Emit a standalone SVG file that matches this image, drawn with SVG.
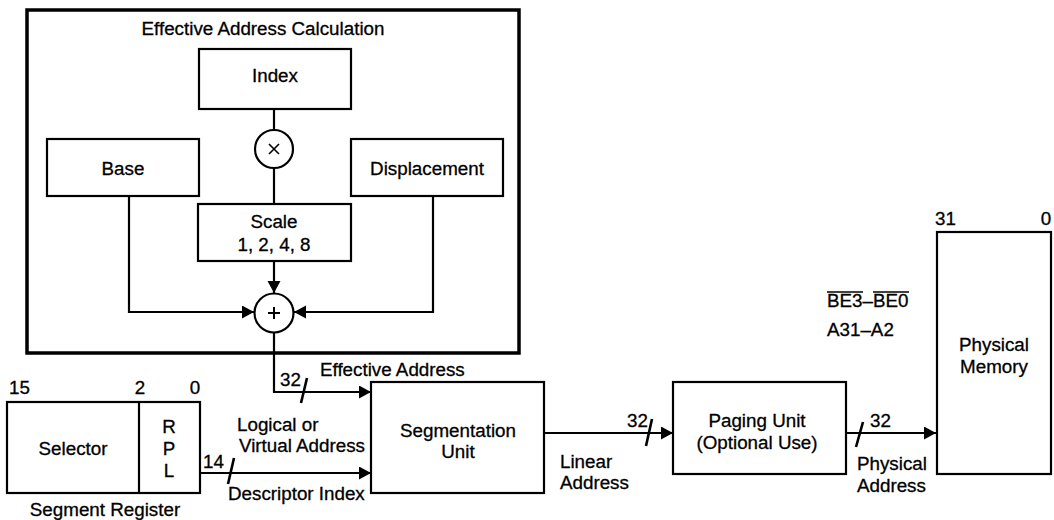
<svg xmlns="http://www.w3.org/2000/svg" width="1054" height="520" viewBox="0 0 1054 520">
<style>
text{font-family:"Liberation Sans",Arial,sans-serif;font-size:18.8px;fill:#000;stroke:#000;stroke-width:0.3}
.m{text-anchor:middle}
.box{fill:#fff;stroke:#000;stroke-width:2.2}
.ln{fill:none;stroke:#000;stroke-width:2.2}
.sl{stroke:#000;stroke-width:2.6}
</style>
<defs>
<marker id="ah" markerUnits="userSpaceOnUse" markerWidth="13" markerHeight="14" refX="12" refY="6.5" orient="auto">
<path d="M0,0 L12,6.5 L0,13 z" fill="#000"/>
</marker>
</defs>
<rect width="1054" height="520" fill="#fff"/>

<g id="ea-calc">
<rect x="27" y="10" width="492" height="343" fill="none" stroke="#000" stroke-width="3.5"/>
<text class="m" x="263" y="35">Effective Address Calculation</text>
</g>

<g id="connectors">
<line class="ln" x1="274" y1="109" x2="274" y2="130"/>
<line class="ln" x1="274" y1="168" x2="274" y2="204"/>
<line class="ln" x1="274" y1="261" x2="274" y2="293" marker-end="url(#ah)"/>
<polyline class="ln" points="129,196 129,312 254,312" marker-end="url(#ah)"/>
<polyline class="ln" points="433,196 433,312 294,312" marker-end="url(#ah)"/>
<polyline class="ln" points="274,332 274,392 371,392" marker-end="url(#ah)"/>
<line class="ln" x1="200" y1="473" x2="371" y2="473" marker-end="url(#ah)"/>
<line class="ln" x1="544" y1="433" x2="673" y2="433" marker-end="url(#ah)"/>
<line class="ln" x1="846" y1="433" x2="936" y2="433" marker-end="url(#ah)"/>
<line class="sl" x1="307" y1="378" x2="301" y2="403"/>
<line class="sl" x1="234" y1="458" x2="228" y2="484"/>
<line class="sl" x1="652" y1="419" x2="646" y2="446"/>
<line class="sl" x1="863" y1="422" x2="856" y2="447"/>
<text x="280" y="386">32</text>
<text x="320" y="376">Effective Address</text>
<text x="203" y="468">14</text>
<text x="237" y="431">Logical or</text>
<text x="239" y="452">Virtual Address</text>
<text x="228" y="500">Descriptor Index</text>
<text x="627" y="427">32</text>
<text x="560" y="468">Linear</text>
<text x="560" y="489">Address</text>
<text x="870" y="427">32</text>
<text x="857" y="470">Physical</text>
<text x="857" y="492">Address</text>
</g>

<g id="index">
<rect class="box" x="199" y="49" width="152" height="60"/>
<text class="m" x="275" y="82">Index</text>
</g>

<g id="mul">
<circle class="box" cx="274" cy="149" r="19"/>
<path d="M269,144 L279,154 M279,144 L269,154" stroke="#000" stroke-width="1.6"/>
</g>

<g id="base">
<rect class="box" x="47" y="139" width="152" height="57"/>
<text class="m" x="123" y="175">Base</text>
</g>

<g id="displacement">
<rect class="box" x="351" y="139" width="152" height="57"/>
<text class="m" x="427" y="175">Displacement</text>
</g>

<g id="scale">
<rect class="box" x="198" y="204" width="153" height="57"/>
<text class="m" x="274" y="228">Scale</text>
<text class="m" x="274" y="251">1, 2, 4, 8</text>
</g>

<g id="add">
<circle class="box" cx="274" cy="313" r="19.5"/>
<path d="M268,313 L280,313 M274,307 L274,319" stroke="#000" stroke-width="2"/>
</g>

<g id="segment-register">
<rect class="box" x="7" y="402" width="193" height="91"/>
<line class="ln" x1="139" y1="402" x2="139" y2="493"/>
<text x="9" y="394">15</text>
<text class="m" x="140" y="394">2</text>
<text class="m" x="195" y="394">0</text>
<text class="m" x="73" y="455">Selector</text>
<text class="m" x="169" y="433">R</text>
<text class="m" x="169" y="455">P</text>
<text class="m" x="169" y="477">L</text>
<text class="m" x="105" y="516">Segment Register</text>
</g>

<g id="segmentation-unit">
<rect class="box" x="371" y="382" width="173" height="111"/>
<text class="m" x="458" y="437">Segmentation</text>
<text class="m" x="458" y="458">Unit</text>
</g>

<g id="paging-unit">
<rect class="box" x="673" y="382" width="173" height="92"/>
<text class="m" x="757" y="427">Paging Unit</text>
<text class="m" x="757" y="449">(Optional Use)</text>
</g>

<g id="physical-memory">
<rect class="box" x="937" y="232" width="114" height="242"/>
<text x="935" y="225">31</text>
<text class="m" x="1046" y="225">0</text>
<text class="m" x="994" y="351">Physical</text>
<text class="m" x="994" y="373">Memory</text>
<text x="827" y="307">BE3–BE0</text>
<line x1="827" y1="292" x2="863" y2="292" stroke="#000" stroke-width="1.3"/>
<line x1="873" y1="292" x2="909" y2="292" stroke="#000" stroke-width="1.3"/>
<text x="827" y="336">A31–A2</text>
</g>
</svg>
